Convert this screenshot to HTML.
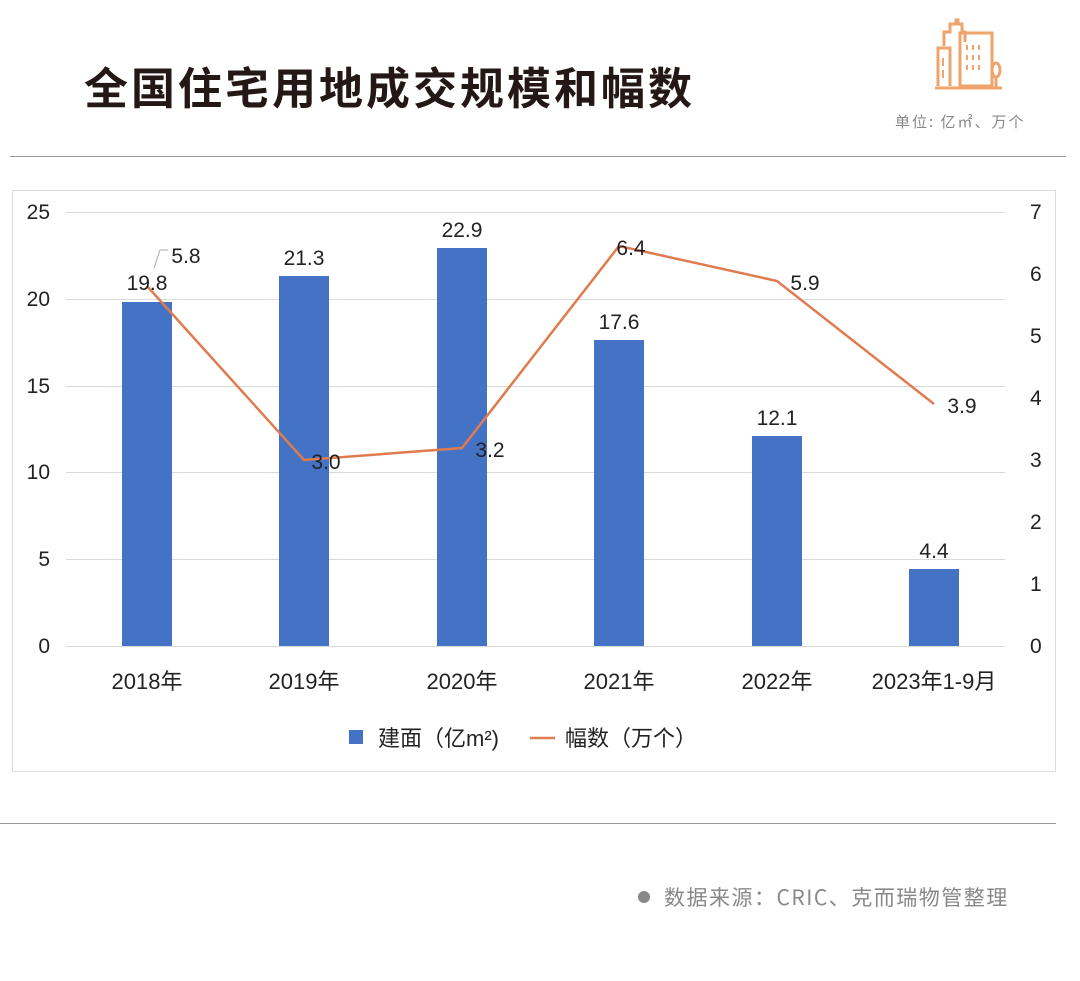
<!DOCTYPE html>
<html><head><meta charset="utf-8"><style>
body{margin:0;background:#fff;}
svg{display:block;}
</style></head><body>
<svg width="1080" height="981" xmlns="http://www.w3.org/2000/svg" font-family="Liberation Sans, Noto Sans CJK SC, sans-serif">
<rect width="1080" height="981" fill="#fff"/>
<text x="84" y="104" font-size="44" font-weight="bold" fill="#231815" font-family="Noto Sans CJK SC, sans-serif" letter-spacing="3">全国住宅用地成交规模和幅数</text>
<g fill="none" stroke="#eea46a" stroke-width="3">
<path d="M935 88 L1002 88"/>
<path d="M938 86 V48 H950 V86"/>
<path d="M944 46 V32 H950 V24 H956 V20 H958 V24 H962 V32 H965 V42"/>
<rect x="960" y="33" width="32" height="53"/>
<path d="M996 88 V76"/><ellipse cx="996" cy="70" rx="4" ry="7"/>
</g>
<g fill="#eea46a"><rect x="942" y="58" width="2" height="8"/><rect x="942" y="70" width="2" height="8"/>
<rect x="966" y="45" width="2" height="5"/><rect x="972" y="45" width="2" height="5"/><rect x="978" y="45" width="2" height="5"/>
<rect x="966" y="55" width="2" height="5"/><rect x="972" y="55" width="2" height="5"/><rect x="978" y="55" width="2" height="5"/>
<rect x="966" y="65" width="2" height="5"/><rect x="972" y="65" width="2" height="5"/><rect x="978" y="65" width="2" height="5"/></g>
<text x="895" y="127" font-size="15" fill="#888" font-family="Noto Sans CJK SC, sans-serif" letter-spacing="2">单位: 亿㎡、万个</text>
<line x1="10" y1="156.5" x2="1066" y2="156.5" stroke="#999" stroke-width="1"/>
<rect x="12.5" y="190.5" width="1043" height="581" fill="none" stroke="#ddd"/>
<g stroke="#d9d9d9" stroke-width="1">
<line x1="66" y1="212.5" x2="1005" y2="212.5"/><line x1="66" y1="299.5" x2="1005" y2="299.5"/>
<line x1="66" y1="386.5" x2="1005" y2="386.5"/><line x1="66" y1="472.5" x2="1005" y2="472.5"/>
<line x1="66" y1="559.5" x2="1005" y2="559.5"/><line x1="66" y1="646.5" x2="1005" y2="646.5"/>
</g>
<g font-size="21" fill="#222" text-anchor="end">
<text x="50" y="219">25</text><text x="50" y="306">20</text><text x="50" y="393">15</text>
<text x="50" y="479">10</text><text x="50" y="566">5</text><text x="50" y="653">0</text>
</g>
<g font-size="21" fill="#222" text-anchor="start">
<text x="1030" y="219">7</text><text x="1030" y="281">6</text><text x="1030" y="343">5</text><text x="1030" y="405">4</text>
<text x="1030" y="467">3</text><text x="1030" y="529">2</text><text x="1030" y="591">1</text><text x="1030" y="653">0</text>
</g>
<g fill="#4472c4">
<rect x="122" y="302" width="50" height="344"/><rect x="279" y="276" width="50" height="370"/>
<rect x="437" y="248" width="50" height="398"/><rect x="594" y="340" width="50" height="306"/>
<rect x="752" y="436" width="50" height="210"/><rect x="909" y="569" width="50" height="77"/>
</g>
<polyline points="147,286 304,460 462,448 619,246 777,281 934,404" fill="none" stroke="#e07b4f" stroke-width="2.5"/>
<path d="M154 268 L160 250 L168 250" fill="none" stroke="#aaa" stroke-width="1"/>
<g font-size="21" fill="#222" text-anchor="middle">
<text x="147" y="290">19.8</text><text x="304" y="265">21.3</text><text x="462" y="237">22.9</text>
<text x="619" y="329">17.6</text><text x="777" y="425">12.1</text><text x="934" y="558">4.4</text>
<text x="186" y="263">5.8</text><text x="326" y="469">3.0</text><text x="490" y="457">3.2</text>
<text x="631" y="255">6.4</text><text x="805" y="290">5.9</text><text x="962" y="413">3.9</text>
</g>
<g font-size="22" fill="#222" text-anchor="middle">
<text x="147" y="689">2018年</text><text x="304" y="689">2019年</text><text x="462" y="689">2020年</text>
<text x="619" y="689">2021年</text><text x="777" y="689">2022年</text><text x="934" y="689">2023年1-9月</text>
</g>
<rect x="349" y="730" width="14" height="14" fill="#4472c4"/>
<text x="378" y="746" font-size="22" fill="#222">建面（亿m²)</text>
<line x1="530" y1="738" x2="555" y2="738" stroke="#e07b4f" stroke-width="2.5"/>
<text x="565" y="746" font-size="22" fill="#222">幅数（万个）</text>
<line x1="0" y1="823.5" x2="1056" y2="823.5" stroke="#999"/>
<circle cx="644" cy="897" r="6" fill="#888"/>
<text x="664" y="905" font-size="21" fill="#888" font-family="Noto Sans CJK SC, sans-serif" letter-spacing="1.5">数据来源：CRIC、克而瑞物管整理</text>
</svg>
</body></html>
